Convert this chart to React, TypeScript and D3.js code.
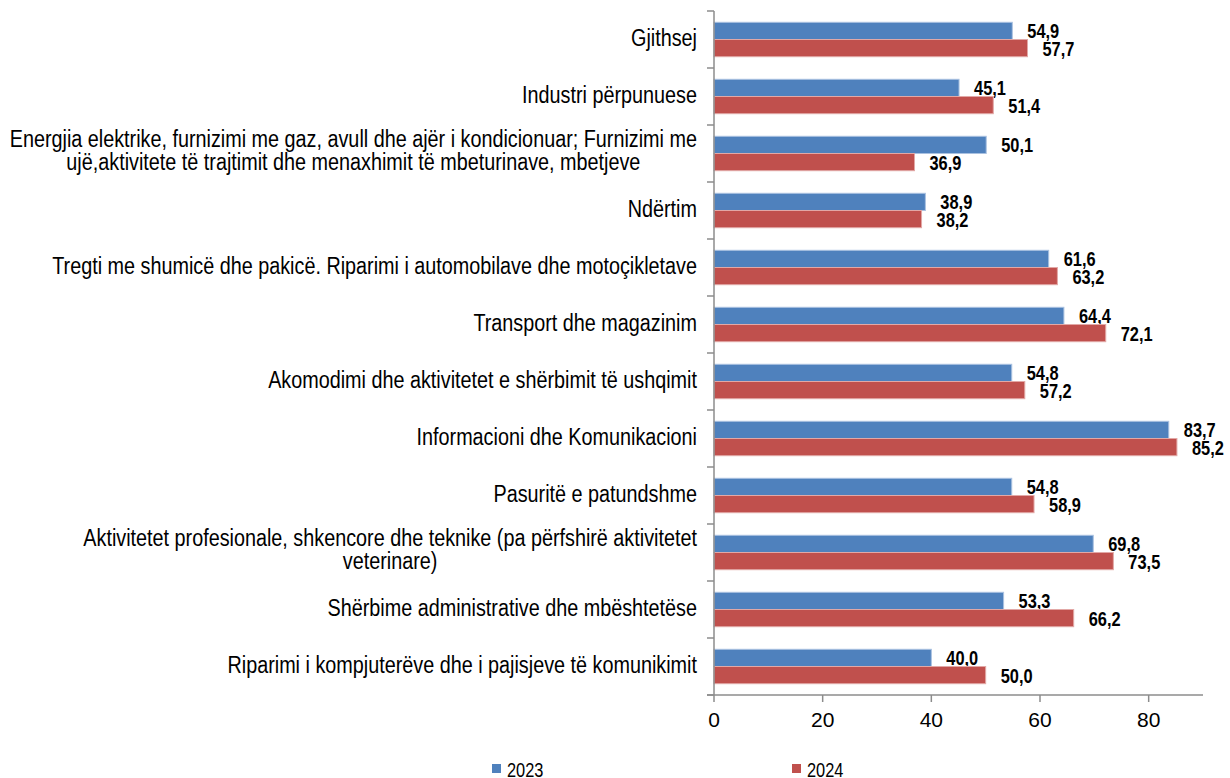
import React, { useEffect, useRef } from "react";
import * as d3 from "d3";

const categories: string[][] = [
  ["Gjithsej"],
  ["Industri përpunuese"],
  [
    "Energjia elektrike, furnizimi me gaz, avull dhe ajër i kondicionuar; Furnizimi me",
    "ujë,aktivitete të trajtimit dhe menaxhimit të mbeturinave, mbetjeve",
  ],
  ["Ndërtim"],
  ["Tregti me shumicë dhe pakicë. Riparimi i automobilave dhe motoçikletave"],
  ["Transport dhe magazinim"],
  ["Akomodimi dhe aktivitetet e shërbimit të ushqimit"],
  ["Informacioni dhe Komunikacioni"],
  ["Pasuritë e patundshme"],
  [
    "Aktivitetet profesionale, shkencore dhe teknike (pa përfshirë aktivitetet",
    "veterinare)",
  ],
  ["Shërbime administrative dhe mbështetëse"],
  ["Riparimi i kompjuterëve dhe i pajisjeve të komunikimit"],
];
const values2023 = [54.9, 45.1, 50.1, 38.9, 61.6, 64.4, 54.8, 83.7, 54.8, 69.8, 53.3, 40.0];
const values2024 = [57.7, 51.4, 36.9, 38.2, 63.2, 72.1, 57.2, 85.2, 58.9, 73.5, 66.2, 50.0];
const seriesNames = ["2023", "2024"];
const xTicks = [0, 20, 40, 60, 80];

const COLORS = ["#4F81BD", "#C0504D"];
const STROKES = ["#a9c1e0", "#e2a8a6"];
const FONT = "Arial, 'Liberation Sans', sans-serif";

export default function App() {
  const labelsRef = useRef<SVGGElement>(null);
  const left = 714;
  const right = 1203;
  const top = 11;
  const bottom = 695;
  const x = d3.scaleLinear().domain([0, 90]).range([left, right]);
  const idx = categories.map((_, i) => i);
  const y = d3.scaleBand<number>().domain(idx).range([top, bottom]).paddingInner(0).paddingOuter(0);
  const bw = y.bandwidth();
  const barH = 17.2;
  const series = [values2023, values2024];
  const fmt = (v: number) => v.toFixed(1).replace(".", ",");

  const catFont = 23.5;
  const catScale = 0.842;
  const labelRight = 697;
  const lineH = 23.3;

  useEffect(() => {
    const g = d3.select(labelsRef.current);
    g.selectAll("*").remove();
    categories.forEach((lines, i) => {
      const cy = (y(i) as number) + bw / 2;
      const n = lines.length;
      const t = g
        .append("text")
        .attr("font-family", FONT)
        .attr("font-size", catFont)
        .attr("fill", "#000")
        .attr("text-anchor", "middle");
      const spans = lines.map((ln, j) =>
        t
          .append("tspan")
          .attr("x", 0)
          .attr("y", cy + 7 + (j - (n - 1) / 2) * lineH - (n > 1 ? 2 : 0))
          .text(ln)
      );
      const widths = spans.map((s) => (s.node() as SVGTSpanElement).getComputedTextLength() * catScale);
      const maxW = Math.max(...widths);
      const cx = labelRight - maxW / 2;
      t.attr("transform", `translate(${cx},0) scale(${catScale},1)`);
    });
  }, []);

  return (
    <svg
      width={1230}
      height={778}
      style={{ position: "absolute", left: 0, top: 0, background: "#fff" }}
    >
      {/* bars */}
      {series.map((vals, s) =>
        vals.map((v, i) => {
          const cy = (y(i) as number) + bw / 2;
          const by = cy - barH + s * barH;
          return (
            <g key={`b${s}-${i}`}>
              <rect
                x={x(0)}
                y={by}
                width={x(v) - x(0)}
                height={barH}
                fill={COLORS[s]}
                stroke={STROKES[s]}
                strokeWidth={1}
              />
              <text
                transform={`translate(${x(v) + 15},${by + barH / 2 + 7.5}) scale(0.8,1)`}
                fontFamily={FONT}
                fontWeight="bold"
                fontSize={20.5}
                fill="#000"
              >
                {fmt(v)}
              </text>
            </g>
          );
        })
      )}

      {/* y axis */}
      <line x1={left} x2={left} y1={top} y2={bottom} stroke="#8c8c8c" strokeWidth={1.5} />
      {d3.range(categories.length + 1).map((k) => {
        const yy = top + k * bw;
        return <line key={`yt${k}`} x1={left - 7} x2={left} y1={yy} y2={yy} stroke="#8c8c8c" strokeWidth={1.5} />;
      })}
      {/* x axis */}
      <line x1={left - 7} x2={right} y1={bottom} y2={bottom} stroke="#8c8c8c" strokeWidth={1.5} />
      {xTicks.map((t) => (
        <g key={`xt${t}`}>
          <line x1={x(t)} x2={x(t)} y1={bottom} y2={bottom + 7} stroke="#8c8c8c" strokeWidth={1.5} />
          <text x={x(t)} y={727} textAnchor="middle" fontFamily={FONT} fontSize={21} fill="#000">
            {t}
          </text>
        </g>
      ))}

      {/* category labels */}
      <g ref={labelsRef} />

      {/* legend */}
      {seriesNames.map((n, s) => {
        const lx = s === 0 ? 492 : 792;
        return (
          <g key={`lg${s}`}>
            <rect x={lx} y={764} width={9} height={9} fill={COLORS[s]} />
            <text
              transform={`translate(${lx + 15},777) scale(0.82,1)`}
              fontFamily={FONT}
              fontSize={20}
              fill="#000"
            >
              {n}
            </text>
          </g>
        );
      })}
    </svg>
  );
}
